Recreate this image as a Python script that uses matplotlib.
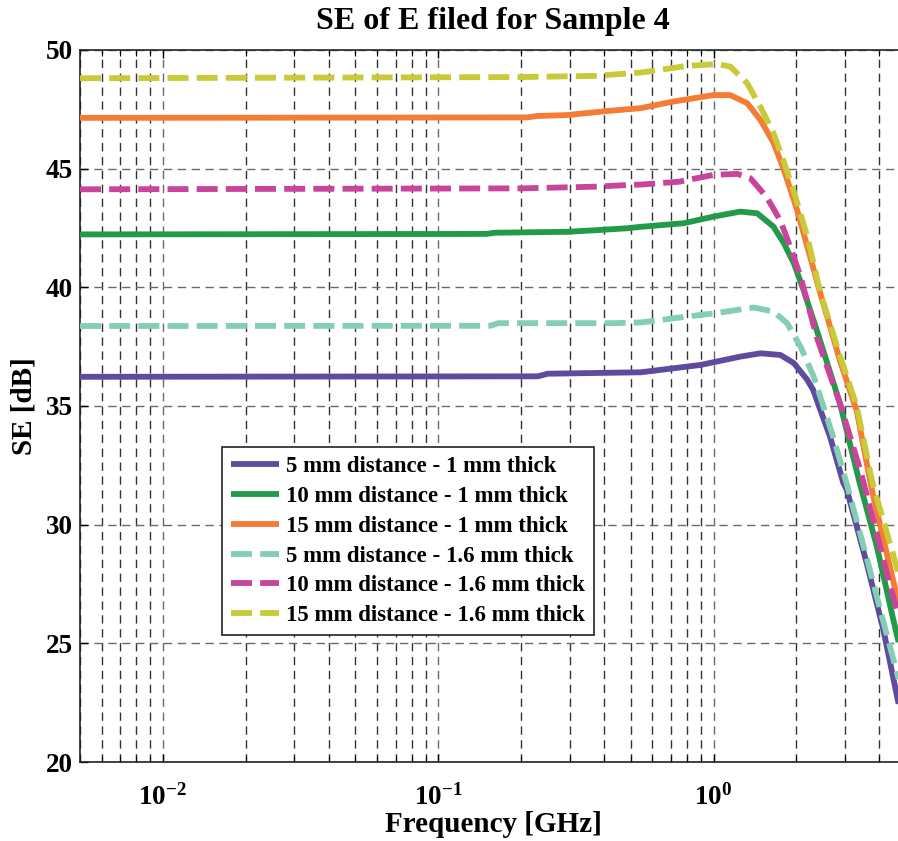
import matplotlib
matplotlib.use("Agg")
import matplotlib.pyplot as plt
from matplotlib.ticker import LogLocator, LogFormatterMathtext, MultipleLocator, NullFormatter

plt.rcParams["font.family"] = ["Liberation Serif", "DejaVu Serif"]
plt.rcParams["font.weight"] = "bold"
plt.rcParams["mathtext.fontset"] = "custom"
plt.rcParams["mathtext.rm"] = "Liberation Serif:bold"
plt.rcParams["mathtext.bf"] = "Liberation Serif:bold"
plt.rcParams["mathtext.default"] = "bf"

title = "SE of E filed for Sample 4"
xlabel = "Frequency [GHz]"
ylabel = "SE [dB]"

# frequency samples [GHz] and shielding effectiveness [dB] per configuration
f_5_1 = [0.005, 0.23, 0.25, 0.544, 0.897, 1.25, 1.48, 1.75, 1.96, 2.19, 2.3, 2.65, 2.96, 3.05, 3.6, 4.14, 4.7]
se_5_1 = [36.23, 36.25, 36.36, 36.42, 36.73, 37.08, 37.22, 37.15, 36.8, 36.1, 35.68, 33.7, 31.76, 31.46, 28.37, 25.56, 22.45]

f_10_1 = [0.005, 0.15, 0.16, 0.295, 0.39, 0.487, 0.544, 0.778, 1.0, 1.25, 1.44, 1.65, 1.8, 1.96, 2.12, 2.37, 2.88, 3.37, 3.92, 4.5, 4.7]
se_10_1 = [42.23, 42.25, 42.3, 42.34, 42.42, 42.49, 42.55, 42.7, 42.98, 43.19, 43.12, 42.56, 41.86, 41.0, 39.9, 38.2, 35.1, 31.9, 29.07, 25.98, 25.05]

f_15_1 = [0.005, 0.21, 0.23, 0.295, 0.412, 0.544, 0.716, 1.0, 1.15, 1.325, 1.48, 1.65, 1.8, 2.01, 2.44, 2.88, 3.31, 3.76, 4.5, 4.7]
se_15_1 = [47.14, 47.16, 47.22, 47.26, 47.43, 47.55, 47.83, 48.1, 48.1, 47.76, 47.05, 46.1, 44.96, 43.27, 39.76, 36.9, 34.8, 31.46, 27.6, 26.7]

f_5_16 = [0.005, 0.155, 0.165, 0.434, 0.544, 0.803, 1.0, 1.4, 1.65, 1.85, 2.07, 2.31, 2.44, 2.72, 3.05, 3.6, 4.14, 4.7]
se_5_16 = [38.37, 38.38, 38.49, 38.49, 38.52, 38.77, 38.9, 39.15, 38.98, 38.49, 37.5, 36.24, 35.4, 33.7, 31.7, 28.6, 25.9, 23.5]

f_10_16 = [0.005, 0.2, 0.37, 0.487, 0.544, 0.75, 1.0, 1.22, 1.36, 1.56, 1.75, 1.9, 2.07, 2.37, 2.88, 3.41, 3.92, 4.38, 4.7]
se_10_16 = [44.13, 44.17, 44.24, 44.31, 44.33, 44.45, 44.74, 44.78, 44.6, 43.8, 42.8, 41.7, 40.45, 37.9, 35.1, 32.3, 29.6, 27.4, 26.2]

f_15_16 = [0.005, 0.2, 0.37, 0.46, 0.544, 0.803, 1.03, 1.15, 1.325, 1.48, 1.65, 1.79, 1.95, 2.19, 2.44, 2.88, 3.31, 3.77, 4.5, 4.7]
se_15_16 = [48.81, 48.86, 48.91, 48.99, 49.05, 49.33, 49.41, 49.3, 48.6, 47.6, 46.5, 45.37, 44.1, 42.14, 39.8, 37.1, 35.0, 31.8, 28.7, 27.9]

labels = [
    "5 mm distance - 1 mm thick",
    "10 mm distance - 1 mm thick",
    "15 mm distance - 1 mm thick",
    "5 mm distance - 1.6 mm thick",
    "10 mm distance - 1.6 mm thick",
    "15 mm distance - 1.6 mm thick",
]
series = [(f_5_1, se_5_1), (f_10_1, se_10_1), (f_15_1, se_15_1),
          (f_5_16, se_5_16), (f_10_16, se_10_16), (f_15_16, se_15_16)]
colors = ["#5E4B9E", "#239A4A", "#F47C35", "#84CEB3", "#C9449B", "#C8CA3A"]
dashed = [False, False, False, True, True, True]

fig = plt.figure(figsize=(8.98, 8.41), dpi=100)
ax = fig.add_axes([80 / 898, 1 - 762 / 841, (906 - 80) / 898, (762 - 50) / 841])

for (fx, sy), lab, col, dsh in zip(series, labels, colors, dashed):
    if dsh:
        ax.plot(fx, sy, color=col, lw=4.2, linestyle=(0, (3.6, 1.4)),
                dash_capstyle="butt", label=lab, zorder=3)
    else:
        ax.plot(fx, sy, color=col, lw=4.2, solid_capstyle="butt", label=lab, zorder=3)

ax.set_xscale("log")
ax.set_xlim(0.005, 5)
ax.set_ylim(20, 50)
ax.yaxis.set_major_locator(MultipleLocator(5))
ax.xaxis.set_major_locator(LogLocator(base=10, numticks=10))
ax.xaxis.set_minor_locator(LogLocator(base=10, subs=range(2, 10), numticks=20))
ax.xaxis.set_major_formatter(LogFormatterMathtext())
ax.xaxis.set_minor_formatter(NullFormatter())

ax.grid(True, which="major", axis="both", color="#6a6a6a", lw=1.0, linestyle=(0, (6, 4)))
ax.grid(True, which="minor", axis="x", color="#333333", lw=1.0, linestyle=(0, (6, 4)))
ax.set_axisbelow(True)

ax.tick_params(which="both", direction="in", top=True, right=False, labelsize=19.5)
ax.tick_params(axis="x", pad=16)
ax.tick_params(axis="y", pad=5)
ax.tick_params(which="major", length=6, width=1)
ax.tick_params(which="minor", length=4, width=0.8)
for s in ax.spines.values():
    s.set_linewidth(1.2)
    s.set_color("#222222")
ax.spines["right"].set_visible(False)

ax.set_title(title, fontsize=23, fontweight="bold", pad=15)
ax.set_xlabel(xlabel, fontsize=21, fontweight="bold", labelpad=0)
ax.set_ylabel(ylabel, fontsize=21, fontweight="bold", labelpad=6)

leg = ax.legend(loc="lower left", bbox_to_anchor=(0.172, 0.178), fontsize=16.5,
                frameon=True, fancybox=False, edgecolor="#222222", framealpha=1,
                handlelength=2.1, handletextpad=0.3, labelspacing=0.38,
                borderpad=0.4, borderaxespad=0)
leg.get_frame().set_linewidth(1.2)

fig.savefig("out.png", dpi=100)
